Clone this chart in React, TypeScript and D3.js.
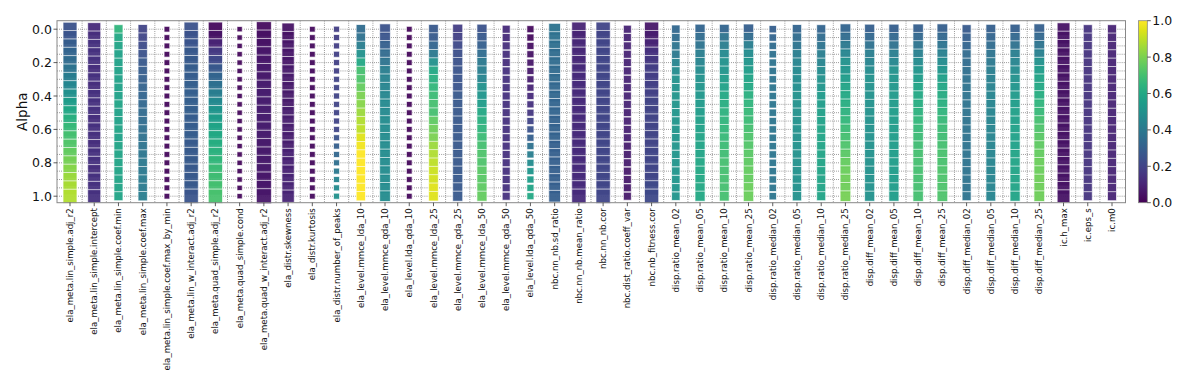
import React from "react";
import * as d3 from "d3";

const features = [
  "ela_meta.lin_simple.adj_r2",
  "ela_meta.lin_simple.intercept",
  "ela_meta.lin_simple.coef.min",
  "ela_meta.lin_simple.coef.max",
  "ela_meta.lin_simple.coef.max_by_min",
  "ela_meta.lin_w_interact.adj_r2",
  "ela_meta.quad_simple.adj_r2",
  "ela_meta.quad_simple.cond",
  "ela_meta.quad_w_interact.adj_r2",
  "ela_distr.skewness",
  "ela_distr.kurtosis",
  "ela_distr.number_of_peaks",
  "ela_level.mmce_lda_10",
  "ela_level.mmce_qda_10",
  "ela_level.lda_qda_10",
  "ela_level.mmce_lda_25",
  "ela_level.mmce_qda_25",
  "ela_level.mmce_lda_50",
  "ela_level.mmce_qda_50",
  "ela_level.lda_qda_50",
  "nbc.nn_nb.sd_ratio",
  "nbc.nn_nb.mean_ratio",
  "nbc.nn_nb.cor",
  "nbc.dist_ratio.coeff_var",
  "nbc.nb_fitness.cor",
  "disp.ratio_mean_02",
  "disp.ratio_mean_05",
  "disp.ratio_mean_10",
  "disp.ratio_mean_25",
  "disp.ratio_median_02",
  "disp.ratio_median_05",
  "disp.ratio_median_10",
  "disp.ratio_median_25",
  "disp.diff_mean_02",
  "disp.diff_mean_05",
  "disp.diff_mean_10",
  "disp.diff_mean_25",
  "disp.diff_median_02",
  "disp.diff_median_05",
  "disp.diff_median_10",
  "disp.diff_median_25",
  "ic.h_max",
  "ic.eps_s",
  "ic.m0",
];

// relative weight of each feature (drives marker size)
const featureWeight = [
  0.93, 0.87, 0.6, 0.62, 0.38, 0.95, 0.95, 0.35, 1.0, 0.82, 0.38, 0.4, 0.62, 0.71,
  0.38, 0.64, 0.67, 0.67, 0.53, 0.47, 0.78, 0.95, 0.95, 0.53, 0.95, 0.56, 0.67,
  0.65, 0.69, 0.49, 0.62, 0.6, 0.71, 0.67, 0.67, 0.69, 0.71, 0.6, 0.65, 0.67,
  0.71, 0.85, 0.6, 0.6,
];

const alphas = [
  0.0, 0.05, 0.1, 0.15, 0.2, 0.25, 0.3, 0.35, 0.4, 0.45, 0.5, 0.55, 0.6, 0.65, 0.7,
  0.75, 0.8, 0.85, 0.9, 0.95, 1.0,
];

const yTicks = [0.0, 0.2, 0.4, 0.6, 0.8, 1.0];
const colorbarTicks = [0.0, 0.2, 0.4, 0.6, 0.8, 1.0];

// one row of 21 scores (alpha 0 → 1) per feature
const scores: number[][] = [
  [0.25,0.26,0.29,0.32,0.35,0.38,0.42,0.46,0.5,0.55,0.59,0.63,0.67,0.7,0.73,0.76,0.79,0.82,0.85,0.87,0.88],
  [0.12,0.13,0.14,0.14,0.14,0.13,0.14,0.13,0.14,0.14,0.14,0.13,0.14,0.14,0.13,0.14,0.14,0.13,0.14,0.14,0.14],
  [0.65,0.6,0.58,0.57,0.57,0.57,0.57,0.57,0.57,0.58,0.57,0.57,0.58,0.57,0.58,0.58,0.58,0.58,0.58,0.58,0.58],
  [0.2,0.21,0.23,0.25,0.27,0.29,0.3,0.31,0.32,0.33,0.34,0.35,0.36,0.37,0.38,0.39,0.4,0.4,0.41,0.41,0.42],
  [0.02,0.02,0.02,0.02,0.02,0.02,0.02,0.02,0.02,0.02,0.02,0.02,0.02,0.02,0.02,0.02,0.02,0.02,0.02,0.02,0.02],
  [0.25,0.25,0.26,0.27,0.28,0.29,0.29,0.3,0.3,0.3,0.3,0.29,0.29,0.29,0.28,0.28,0.28,0.27,0.27,0.27,0.26],
  [0.02,0.05,0.1,0.17,0.22,0.27,0.32,0.37,0.42,0.47,0.52,0.55,0.58,0.6,0.62,0.64,0.66,0.68,0.69,0.7,0.71],
  [0.02,0.02,0.02,0.02,0.02,0.02,0.02,0.02,0.02,0.02,0.02,0.02,0.02,0.02,0.02,0.02,0.02,0.02,0.02,0.02,0.02],
  [0.03,0.04,0.05,0.06,0.06,0.07,0.07,0.08,0.08,0.08,0.08,0.08,0.08,0.08,0.07,0.07,0.07,0.07,0.06,0.06,0.06],
  [0.05,0.05,0.06,0.06,0.06,0.07,0.07,0.07,0.07,0.07,0.08,0.08,0.08,0.08,0.08,0.09,0.09,0.09,0.1,0.1,0.1],
  [0.03,0.03,0.03,0.03,0.03,0.03,0.03,0.03,0.03,0.03,0.03,0.03,0.03,0.03,0.03,0.03,0.03,0.03,0.03,0.03,0.03],
  [0.18,0.18,0.18,0.19,0.19,0.19,0.2,0.2,0.2,0.2,0.2,0.2,0.21,0.25,0.3,0.33,0.36,0.4,0.45,0.48,0.5],
  [0.35,0.37,0.42,0.5,0.6,0.7,0.72,0.76,0.8,0.82,0.85,0.88,0.9,0.95,0.98,1.0,1.0,1.0,1.0,1.0,1.0],
  [0.25,0.26,0.3,0.34,0.38,0.42,0.44,0.45,0.46,0.47,0.47,0.48,0.48,0.48,0.48,0.48,0.48,0.48,0.48,0.48,0.48],
  [0.02,0.02,0.02,0.02,0.02,0.02,0.02,0.02,0.02,0.02,0.02,0.02,0.02,0.02,0.02,0.02,0.02,0.02,0.02,0.02,0.02],
  [0.27,0.28,0.32,0.4,0.5,0.6,0.63,0.66,0.68,0.7,0.7,0.75,0.78,0.8,0.85,0.88,0.9,0.92,0.93,0.95,0.95],
  [0.18,0.19,0.22,0.24,0.25,0.26,0.26,0.26,0.27,0.27,0.27,0.27,0.27,0.27,0.27,0.27,0.27,0.27,0.27,0.27,0.27],
  [0.25,0.27,0.3,0.35,0.4,0.42,0.45,0.5,0.52,0.55,0.6,0.63,0.65,0.68,0.7,0.72,0.72,0.74,0.74,0.75,0.76],
  [0.12,0.12,0.13,0.13,0.13,0.14,0.14,0.14,0.14,0.14,0.14,0.14,0.14,0.14,0.14,0.14,0.14,0.14,0.14,0.14,0.14],
  [0.03,0.03,0.04,0.05,0.06,0.07,0.08,0.1,0.12,0.14,0.16,0.2,0.25,0.3,0.37,0.42,0.48,0.52,0.55,0.58,0.6],
  [0.38,0.37,0.36,0.35,0.35,0.34,0.34,0.33,0.33,0.32,0.32,0.31,0.31,0.31,0.3,0.3,0.3,0.3,0.3,0.3,0.3],
  [0.1,0.1,0.11,0.11,0.11,0.12,0.12,0.12,0.12,0.12,0.12,0.12,0.12,0.12,0.12,0.12,0.12,0.12,0.12,0.12,0.12],
  [0.2,0.2,0.21,0.21,0.21,0.21,0.21,0.21,0.21,0.21,0.21,0.21,0.21,0.21,0.21,0.21,0.21,0.21,0.21,0.21,0.21],
  [0.1,0.1,0.1,0.1,0.1,0.1,0.1,0.1,0.1,0.1,0.09,0.09,0.09,0.09,0.08,0.08,0.08,0.07,0.07,0.07,0.07],
  [0.06,0.08,0.1,0.14,0.16,0.18,0.18,0.19,0.19,0.2,0.2,0.2,0.2,0.2,0.2,0.21,0.21,0.21,0.21,0.22,0.22],
  [0.33,0.35,0.38,0.4,0.45,0.48,0.5,0.51,0.52,0.52,0.52,0.52,0.52,0.52,0.52,0.52,0.52,0.52,0.52,0.52,0.52],
  [0.32,0.35,0.38,0.42,0.45,0.48,0.5,0.52,0.53,0.54,0.55,0.56,0.57,0.58,0.58,0.58,0.59,0.6,0.6,0.6,0.6],
  [0.32,0.38,0.42,0.47,0.5,0.52,0.55,0.57,0.6,0.62,0.64,0.65,0.66,0.67,0.68,0.69,0.7,0.7,0.7,0.7,0.7],
  [0.3,0.35,0.42,0.48,0.52,0.55,0.58,0.6,0.63,0.65,0.67,0.68,0.7,0.72,0.73,0.74,0.75,0.76,0.76,0.77,0.77],
  [0.3,0.32,0.35,0.37,0.38,0.38,0.38,0.39,0.39,0.39,0.39,0.39,0.39,0.39,0.39,0.39,0.39,0.39,0.39,0.39,0.39],
  [0.32,0.35,0.38,0.42,0.45,0.47,0.48,0.49,0.5,0.5,0.5,0.5,0.5,0.5,0.5,0.5,0.5,0.5,0.5,0.5,0.5],
  [0.32,0.35,0.38,0.42,0.45,0.48,0.5,0.52,0.54,0.55,0.56,0.57,0.58,0.58,0.58,0.58,0.58,0.58,0.58,0.58,0.58],
  [0.32,0.35,0.4,0.45,0.5,0.52,0.55,0.58,0.6,0.62,0.64,0.66,0.68,0.7,0.72,0.74,0.76,0.77,0.78,0.78,0.79],
  [0.3,0.33,0.37,0.42,0.45,0.48,0.5,0.5,0.5,0.5,0.5,0.5,0.5,0.5,0.5,0.5,0.5,0.5,0.5,0.5,0.5],
  [0.3,0.33,0.37,0.42,0.46,0.5,0.52,0.53,0.54,0.54,0.55,0.55,0.55,0.55,0.55,0.55,0.55,0.55,0.55,0.55,0.55],
  [0.3,0.33,0.38,0.43,0.48,0.52,0.55,0.58,0.6,0.62,0.64,0.66,0.67,0.68,0.69,0.7,0.7,0.7,0.7,0.7,0.7],
  [0.3,0.33,0.38,0.43,0.48,0.52,0.56,0.59,0.61,0.63,0.65,0.67,0.68,0.69,0.7,0.71,0.71,0.72,0.72,0.72,0.72],
  [0.28,0.3,0.32,0.34,0.35,0.36,0.37,0.38,0.38,0.38,0.38,0.38,0.38,0.38,0.38,0.38,0.38,0.38,0.38,0.38,0.38],
  [0.3,0.32,0.35,0.38,0.4,0.42,0.43,0.44,0.45,0.45,0.45,0.45,0.45,0.45,0.45,0.45,0.45,0.45,0.45,0.45,0.45],
  [0.3,0.33,0.37,0.42,0.45,0.48,0.5,0.52,0.54,0.55,0.56,0.56,0.57,0.57,0.57,0.58,0.58,0.58,0.58,0.58,0.58],
  [0.3,0.33,0.38,0.43,0.5,0.55,0.58,0.6,0.62,0.65,0.67,0.7,0.72,0.74,0.75,0.76,0.77,0.77,0.78,0.78,0.78],
  [0.05,0.05,0.05,0.05,0.05,0.05,0.05,0.05,0.05,0.05,0.05,0.05,0.05,0.05,0.05,0.05,0.05,0.05,0.05,0.05,0.05],
  [0.15,0.15,0.15,0.15,0.15,0.15,0.15,0.15,0.15,0.15,0.15,0.15,0.15,0.15,0.15,0.15,0.15,0.15,0.15,0.15,0.15],
  [0.1,0.1,0.1,0.1,0.1,0.1,0.1,0.1,0.1,0.1,0.1,0.1,0.1,0.1,0.1,0.1,0.1,0.1,0.1,0.1,0.1],
];

const W = 1196;
const H = 378;
const frame = { left: 57, right: 1125.5, top: 20.7, bottom: 202.7 };
const cb = { left: 1138.5, right: 1147.3, top: 20.7, bottom: 202.7 };
const FONT = "DejaVu Sans, sans-serif";

export default function App() {
  const x = d3.scalePoint<string>().domain(features).range([70, 1112]);
  const y = d3.scaleLinear().domain([0, 1]).range([29.2, 196.2]);
  const size = d3.scaleLinear().domain([0, 1]).range([0, 15]);
  const color = d3.scaleSequential(d3.interpolateViridis).domain([0, 1]);
  const cbY = d3.scaleLinear().domain([0, 1]).range([cb.bottom, cb.top]);

  const step = x.step();
  const mids = features.slice(0, -1).map((f) => (x(f) as number) + step / 2);
  const stops = d3.range(0, 1.0001, 0.05);

  return (
    <svg
      width={W}
      height={H}
      style={{ position: "absolute", left: 0, top: 0, background: "#fff" }}
      fontFamily={FONT}
    >
      <defs>
        <linearGradient id="vir" x1="0" y1="1" x2="0" y2="0">
          {stops.map((s) => (
            <stop key={s} offset={s} stopColor={color(s)} />
          ))}
        </linearGradient>
      </defs>

      {/* grid */}
      <g stroke="#666" strokeWidth={0.8} strokeDasharray="0.8,1.3">
        {alphas.map((a) => (
          <line key={"h" + a} x1={frame.left} x2={frame.right} y1={y(a)} y2={y(a)} />
        ))}
        {mids.map((m, i) => (
          <line key={"v" + i} x1={m} x2={m} y1={frame.top} y2={frame.bottom} />
        ))}
      </g>

      {/* cells */}
      {features.map((f, i) => {
        const s = size(featureWeight[i]);
        const cx = x(f) as number;
        return (
          <g key={f}>
            {alphas.map((a, j) => (
              <rect
                key={j}
                x={cx - s / 2}
                y={y(a) - s / 2}
                width={s}
                height={s}
                fill={color(scores[i][j])}
                fillOpacity={0.95}
                stroke="#fff"
                strokeOpacity={0.75}
                strokeWidth={0.9}
              />
            ))}
          </g>
        );
      })}

      {/* frame */}
      <rect
        x={frame.left}
        y={frame.top}
        width={frame.right - frame.left}
        height={frame.bottom - frame.top}
        fill="none"
        stroke="#888"
        strokeWidth={1}
      />

      {/* y axis */}
      {yTicks.map((t) => (
        <g key={"yt" + t}>
          <line x1={frame.left - 3.5} x2={frame.left} y1={y(t)} y2={y(t)} stroke="#333" strokeWidth={0.8} />
          <text x={frame.left - 5} y={y(t)} dy="0.36em" textAnchor="end" fontSize={12.5} fill="#111">
            {t.toFixed(1)}
          </text>
        </g>
      ))}
      <text
        transform={`translate(22,${(frame.top + frame.bottom) / 2}) rotate(-90)`}
        textAnchor="middle"
        dy="0.36em"
        fontSize={13.5}
        fill="#111"
      >
        Alpha
      </text>

      {/* x axis */}
      {features.map((f) => {
        const cx = x(f) as number;
        return (
          <g key={"xt" + f}>
            <line x1={cx} x2={cx} y1={frame.bottom} y2={frame.bottom + 3.5} stroke="#333" strokeWidth={0.8} />
            <text
              transform={`translate(${cx},${frame.bottom + 5.5}) rotate(-90)`}
              textAnchor="end"
              dy="0.35em"
              fontSize={8.6}
              fill="#111"
            >
              {f}
            </text>
          </g>
        );
      })}

      {/* colorbar */}
      <rect
        x={cb.left}
        y={cb.top}
        width={cb.right - cb.left}
        height={cb.bottom - cb.top}
        fill="url(#vir)"
        stroke="#888"
        strokeWidth={0.8}
      />
      {colorbarTicks.map((t) => (
        <g key={"cb" + t}>
          <line x1={cb.right} x2={cb.right + 3.5} y1={cbY(t)} y2={cbY(t)} stroke="#333" strokeWidth={0.8} />
          <text x={cb.right + 5} y={cbY(t)} dy="0.36em" fontSize={12.5} fill="#111">
            {t.toFixed(1)}
          </text>
        </g>
      ))}
    </svg>
  );
}
